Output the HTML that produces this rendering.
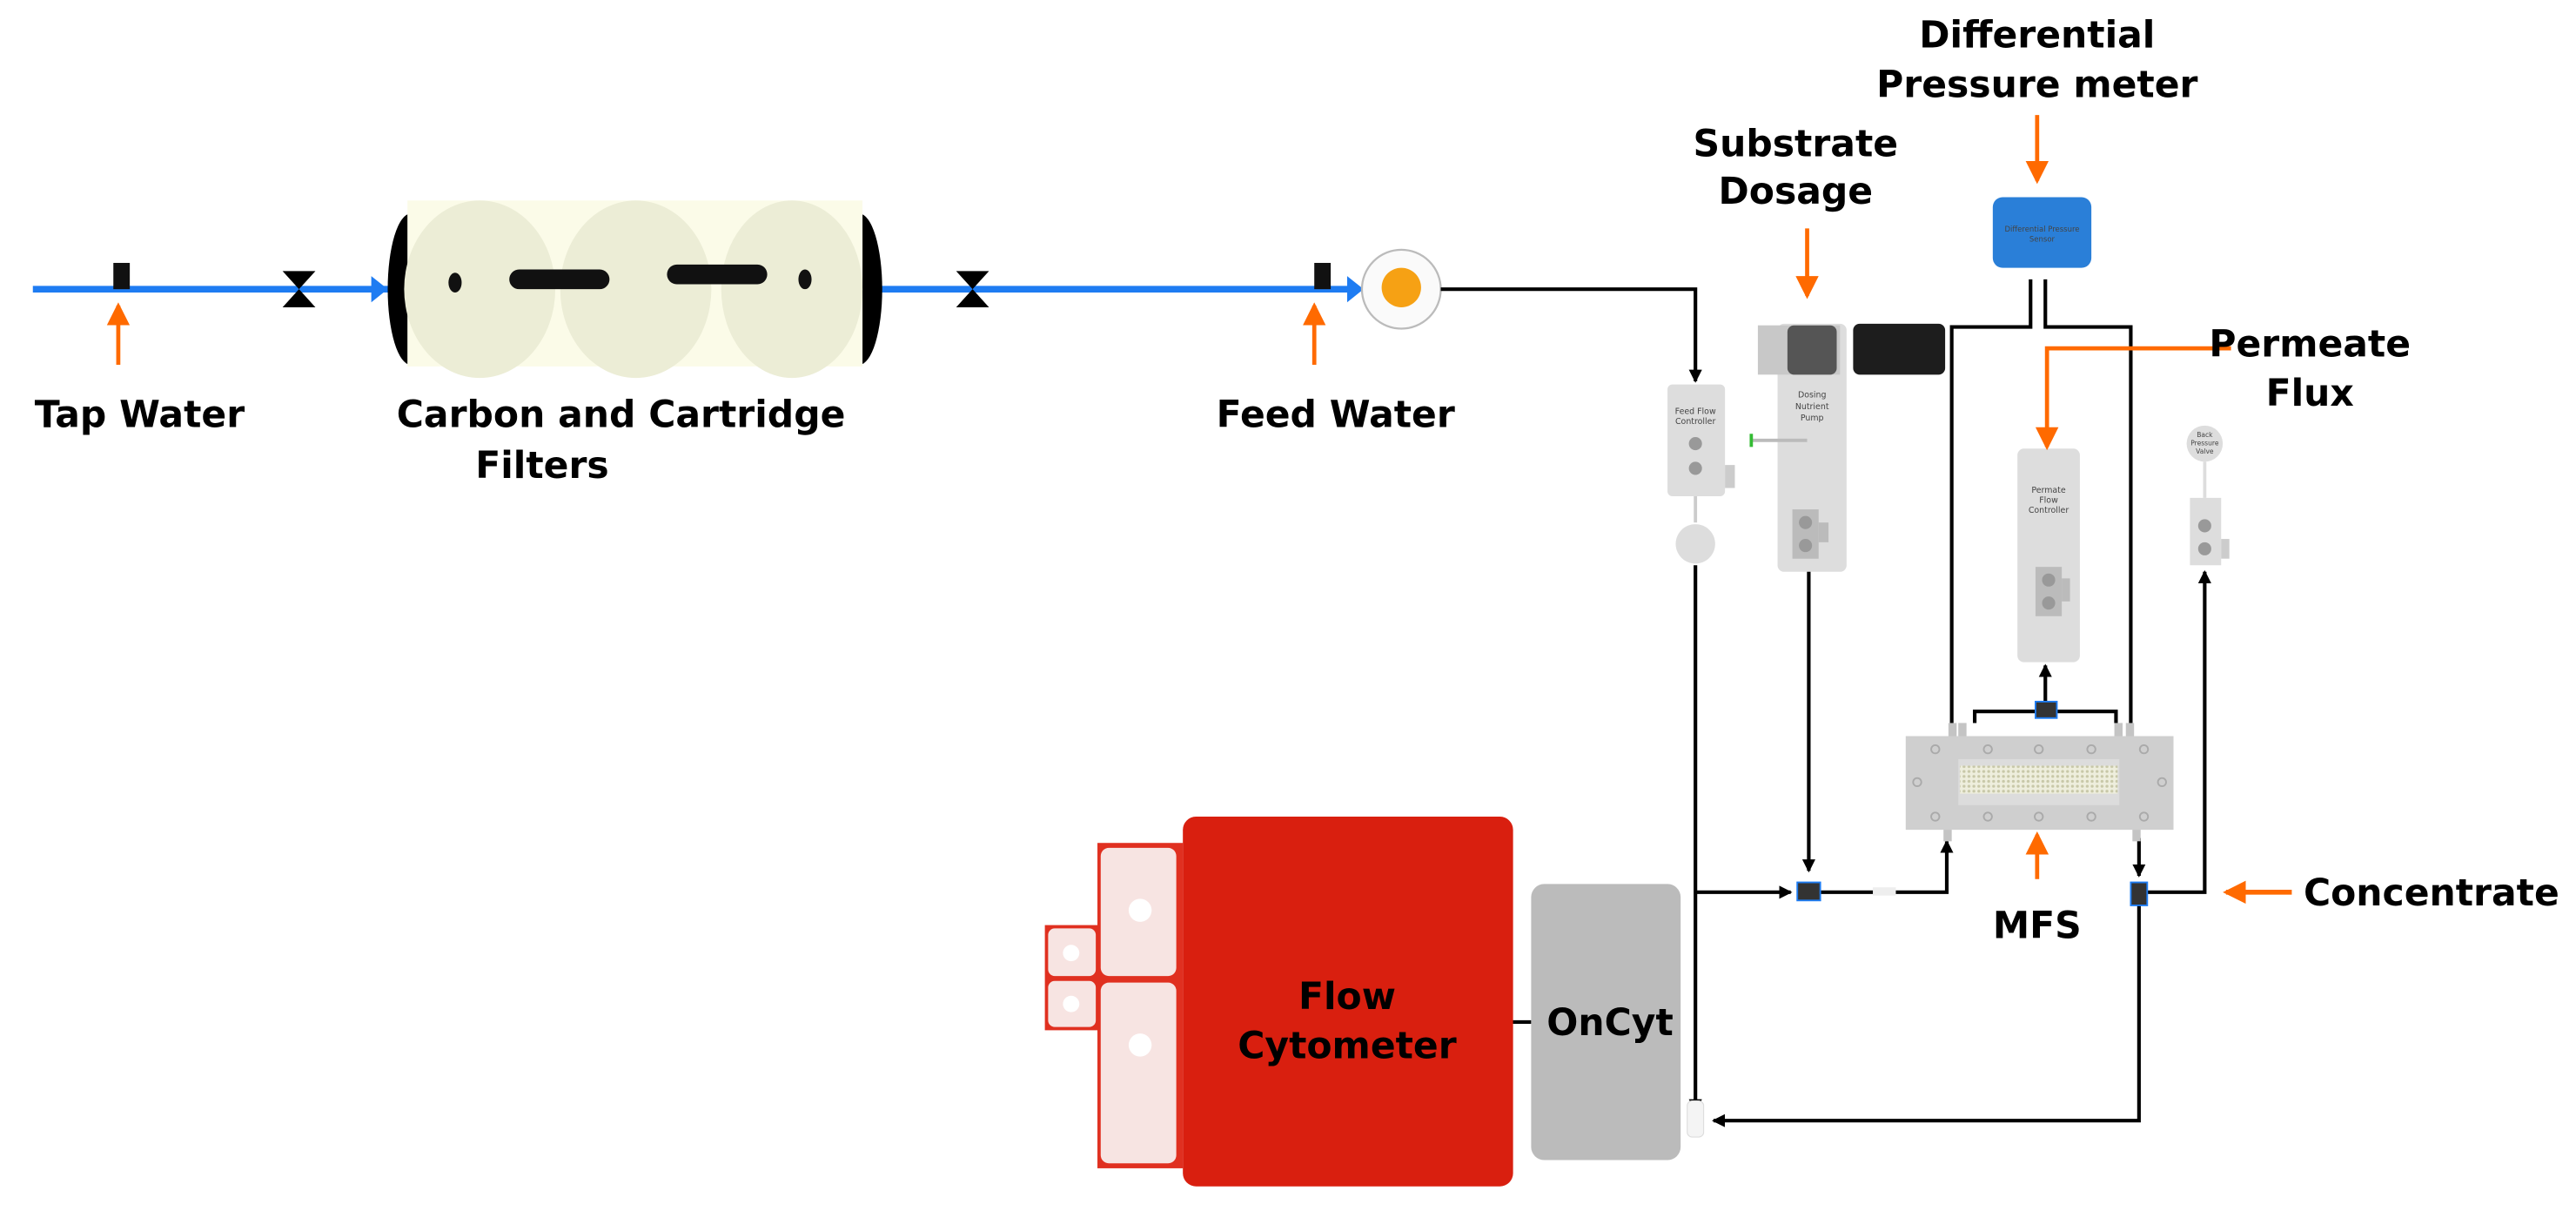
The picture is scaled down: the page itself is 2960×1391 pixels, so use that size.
<!DOCTYPE html>
<html><head><meta charset="utf-8"><style>
html,body{margin:0;padding:0;background:#fff;}
svg{display:block;}
.lb{font-family:"DejaVu Sans","Liberation Sans",sans-serif;font-weight:bold;font-size:22.5px;fill:#000;text-anchor:middle;}
.sm{font-family:"DejaVu Sans","Liberation Sans",sans-serif;font-size:5px;fill:#444;text-anchor:middle;}
</style></head><body>
<svg width="2960" height="1391" viewBox="0 0 1568 737" preserveAspectRatio="none" xmlns="http://www.w3.org/2000/svg">
<defs>
<marker id="ab" markerWidth="8" markerHeight="8" refX="7" refY="4" orient="auto" markerUnits="userSpaceOnUse"><path d="M0,0 L8,4 L0,8 Z" fill="#000"/></marker>
<marker id="ao" markerWidth="14" markerHeight="14" refX="12" refY="7" orient="auto" markerUnits="userSpaceOnUse"><path d="M0,0 L14,7 L0,14 Z" fill="#ff6a00"/></marker>
<pattern id="mesh" width="3" height="3" patternUnits="userSpaceOnUse"><rect width="3" height="3" fill="#eeeedd"/><circle cx="1.5" cy="1.5" r="0.9" fill="#c8c8a8"/></pattern>
</defs>
<line x1="20" y1="176" x2="826" y2="176" stroke="#1e7cf2" stroke-width="4"/>
<path d="M226,168 L236,176 L226,184Z M820,168 L830,176 L820,184Z" fill="#1e7cf2"/>
<rect x="69" y="160" width="10" height="16" fill="#111"/>
<rect x="800" y="160" width="10" height="16" fill="#111"/>
<path d="M172,165 L192,165 L182,176 Z M172,187 L192,187 L182,176 Z" fill="#000"/>
<path d="M582,165 L602,165 L592,176 Z M582,187 L602,187 L592,176 Z" fill="#000"/>
<ellipse cx="250" cy="176" rx="14" ry="46" fill="#000"/>
<ellipse cx="523" cy="176" rx="14" ry="46" fill="#000"/>
<rect x="248" y="122" width="277" height="101" fill="#fbfbe8"/>
<ellipse cx="292" cy="176" rx="46" ry="54" fill="#ecedd6"/>
<ellipse cx="387" cy="176" rx="46" ry="54" fill="#ecedd6"/>
<ellipse cx="482" cy="176" rx="43" ry="54" fill="#ecedd6"/>
<ellipse cx="277" cy="172" rx="4" ry="6" fill="#111"/>
<ellipse cx="490" cy="170" rx="4" ry="6" fill="#111"/>
<rect x="310" y="164" width="61" height="12" rx="6" fill="#111"/>
<rect x="406" y="161" width="61" height="12" rx="6" fill="#111"/>
<circle cx="853" cy="176" r="24" fill="#fafafa" stroke="#bbb" stroke-width="1.2"/>
<ellipse cx="853" cy="175" rx="12" ry="12" fill="#f6a114"/>
<line x1="72" y1="222" x2="72" y2="186" stroke="#ff6a00" stroke-width="2.5" marker-end="url(#ao)"/>
<line x1="800" y1="222" x2="800" y2="186" stroke="#ff6a00" stroke-width="2.5" marker-end="url(#ao)"/>
<text class="lb" x="85" y="260">Tap Water</text>
<text class="lb" x="378" y="260">Carbon and Cartridge</text>
<text class="lb" x="330" y="291">Filters</text>
<text class="lb" x="813" y="260">Feed Water</text>
<g stroke="#000" stroke-width="2.2" fill="none">
<polyline points="877,176 1032,176 1032,232" marker-end="url(#ab)"/>
<line x1="1032" y1="344" x2="1032" y2="676" marker-end="url(#ab)"/>
<line x1="1032" y1="543" x2="1090" y2="543" marker-end="url(#ab)"/>
<line x1="1101" y1="347" x2="1101" y2="530" marker-end="url(#ab)"/>
<polyline points="1108,543 1185,543 1185,512" marker-end="url(#ab)"/>
<polyline points="1236,170 1236,199 1188,199 1188,440"/>
<polyline points="1245,170 1245,199 1297,199 1297,440"/>
<polyline points="1202,440 1202,433 1288,433 1288,440"/>
<line x1="1245" y1="433" x2="1245" y2="405" marker-end="url(#ab)"/>
<line x1="1302" y1="510" x2="1302" y2="533" marker-end="url(#ab)"/>
<polyline points="1306,543 1342,543 1342,348" marker-end="url(#ab)"/>
<polyline points="1302,548 1302,682 1043,682" marker-end="url(#ab)"/>
<line x1="920" y1="622" x2="932" y2="622"/>
</g>
<rect x="1140" y="540" width="14" height="5" fill="#eee"/>
<rect x="1094" y="537" width="14" height="11" fill="#333" stroke="#1e7cf2" stroke-width="1"/>
<rect x="1239" y="427" width="13" height="10" fill="#333" stroke="#1e7cf2" stroke-width="1"/>
<rect x="1297" y="537" width="10" height="14" fill="#333" stroke="#1e7cf2" stroke-width="1"/>
<rect x="1015" y="234" width="35" height="68" rx="3" fill="#ddd"/>
<rect x="1050" y="283" width="6" height="14" fill="#ccc"/>
<text class="sm" x="1032" y="252">Feed Flow</text><text class="sm" x="1032" y="258">Controller</text>
<circle cx="1032" cy="270" r="4" fill="#999"/><circle cx="1032" cy="285" r="4" fill="#999"/>
<line x1="1032" y1="302" x2="1032" y2="318" stroke="#ccc" stroke-width="2"/>
<circle cx="1032" cy="331" r="12" fill="#ddd"/>
<rect x="1082" y="197" width="42" height="151" rx="4" fill="#ddd"/>
<rect x="1070" y="198" width="50" height="30" fill="#c8c8c8"/>
<rect x="1088" y="198" width="30" height="30" rx="4" fill="#555"/>
<rect x="1128" y="197" width="56" height="31" rx="4" fill="#1d1d1d"/>
<text class="sm" x="1103" y="242">Dosing</text><text class="sm" x="1103" y="249">Nutrient</text><text class="sm" x="1103" y="256">Pump</text>
<line x1="1066" y1="268" x2="1100" y2="268" stroke="#bbb" stroke-width="2"/>
<line x1="1066" y1="264" x2="1066" y2="272" stroke="#3b3" stroke-width="2"/>
<rect x="1091" y="310" width="16" height="30" fill="#bbb"/><rect x="1107" y="318" width="6" height="12" fill="#bbb"/>
<circle cx="1099" cy="318" r="4" fill="#999"/><circle cx="1099" cy="332" r="4" fill="#999"/>
<rect x="1213" y="120" width="60" height="43" rx="6" fill="#2a7fd8"/>
<text class="sm" x="1243" y="141" style="font-size:4.5px">Differential Pressure</text><text class="sm" x="1243" y="147" style="font-size:4.5px">Sensor</text>
<rect x="1228" y="273" width="38" height="130" rx="4" fill="#ddd"/>
<text class="sm" x="1247" y="300">Permate</text><text class="sm" x="1247" y="306">Flow</text><text class="sm" x="1247" y="312">Controller</text>
<rect x="1239" y="345" width="16" height="30" fill="#bbb"/><rect x="1255" y="352" width="5" height="14" fill="#bbb"/>
<circle cx="1247" cy="353" r="4" fill="#999"/><circle cx="1247" cy="367" r="4" fill="#999"/>
<circle cx="1342" cy="270" r="11" fill="#ddd"/>
<text class="sm" x="1342" y="266" style="font-size:4px">Back</text><text class="sm" x="1342" y="271" style="font-size:4px">Pressure</text><text class="sm" x="1342" y="276" style="font-size:4px">Valve</text>
<line x1="1342" y1="281" x2="1342" y2="303" stroke="#ddd" stroke-width="2"/>
<rect x="1333" y="303" width="19" height="41" fill="#ddd"/><rect x="1352" y="328" width="5" height="12" fill="#ccc"/>
<circle cx="1342" cy="320" r="4" fill="#999"/><circle cx="1342" cy="334" r="4" fill="#999"/>
<g fill="#c4c4c4"><rect x="1186" y="440" width="5" height="9"/><rect x="1192" y="440" width="5" height="9"/><rect x="1287" y="440" width="5" height="9"/><rect x="1294" y="440" width="5" height="9"/><rect x="1183" y="504" width="5" height="8"/><rect x="1298" y="504" width="5" height="8"/></g>
<rect x="1160" y="448" width="163" height="57" fill="#cfcfcf"/>
<rect x="1192" y="462" width="98" height="28" fill="#dcdcdc"/>
<rect x="1193" y="466" width="96" height="17" fill="url(#mesh)"/>
<g fill="none" stroke="#aaa" stroke-width="1"><circle cx="1178" cy="456" r="2.5"/><circle cx="1210" cy="456" r="2.5"/><circle cx="1241" cy="456" r="2.5"/><circle cx="1273" cy="456" r="2.5"/><circle cx="1305" cy="456" r="2.5"/><circle cx="1178" cy="497" r="2.5"/><circle cx="1210" cy="497" r="2.5"/><circle cx="1241" cy="497" r="2.5"/><circle cx="1273" cy="497" r="2.5"/><circle cx="1305" cy="497" r="2.5"/><circle cx="1167" cy="476" r="2.5"/><circle cx="1316" cy="476" r="2.5"/></g>
<line x1="1100" y1="139" x2="1100" y2="180" stroke="#ff6a00" stroke-width="2.5" marker-end="url(#ao)"/>
<line x1="1240" y1="70" x2="1240" y2="110" stroke="#ff6a00" stroke-width="2.5" marker-end="url(#ao)"/>
<polyline points="1358,212 1246,212 1246,272" fill="none" stroke="#ff6a00" stroke-width="2.5" marker-end="url(#ao)"/>
<line x1="1240" y1="535" x2="1240" y2="508" stroke="#ff6a00" stroke-width="2.5" marker-end="url(#ao)"/>
<line x1="1395" y1="543" x2="1355" y2="543" stroke="#ff6a00" stroke-width="3" marker-end="url(#ao)"/>
<text class="lb" x="1093" y="95">Substrate</text><text class="lb" x="1093" y="124">Dosage</text>
<text class="lb" x="1240" y="29">Differential</text><text class="lb" x="1240" y="59">Pressure meter</text>
<text class="lb" x="1406" y="217">Permeate</text><text class="lb" x="1406" y="247">Flux</text>
<text class="lb" x="1240" y="571">MFS</text>
<text class="lb" x="1480" y="551">Concentrate</text>
<rect x="636" y="563" width="34" height="64" fill="#e03020"/>
<rect x="638" y="565" width="29" height="29" rx="4" fill="#f7e4e2"/><rect x="638" y="597" width="29" height="28" rx="4" fill="#f7e4e2"/>
<circle cx="652" cy="580" r="5" fill="#fff"/><circle cx="652" cy="611" r="5" fill="#fff"/>
<rect x="668" y="513" width="52" height="198" fill="#e03020"/>
<rect x="670" y="516" width="46" height="78" rx="5" fill="#f7e4e2"/><rect x="670" y="598" width="46" height="110" rx="5" fill="#f7e4e2"/>
<circle cx="694" cy="554" r="7" fill="#fff"/><circle cx="694" cy="636" r="7" fill="#fff"/>
<rect x="720" y="497" width="201" height="225" rx="8" fill="#d91f0f"/>
<text class="lb" x="820" y="614">Flow</text><text class="lb" x="820" y="644">Cytometer</text>
<rect x="932" y="538" width="91" height="168" rx="8" fill="#bbbbbb"/>
<text class="lb" x="980" y="630">OnCyt</text>
<rect x="1027" y="670" width="10" height="22" rx="3" fill="#f4f4f4" stroke="#ddd" stroke-width="0.6"/>
</svg>
</body></html>
